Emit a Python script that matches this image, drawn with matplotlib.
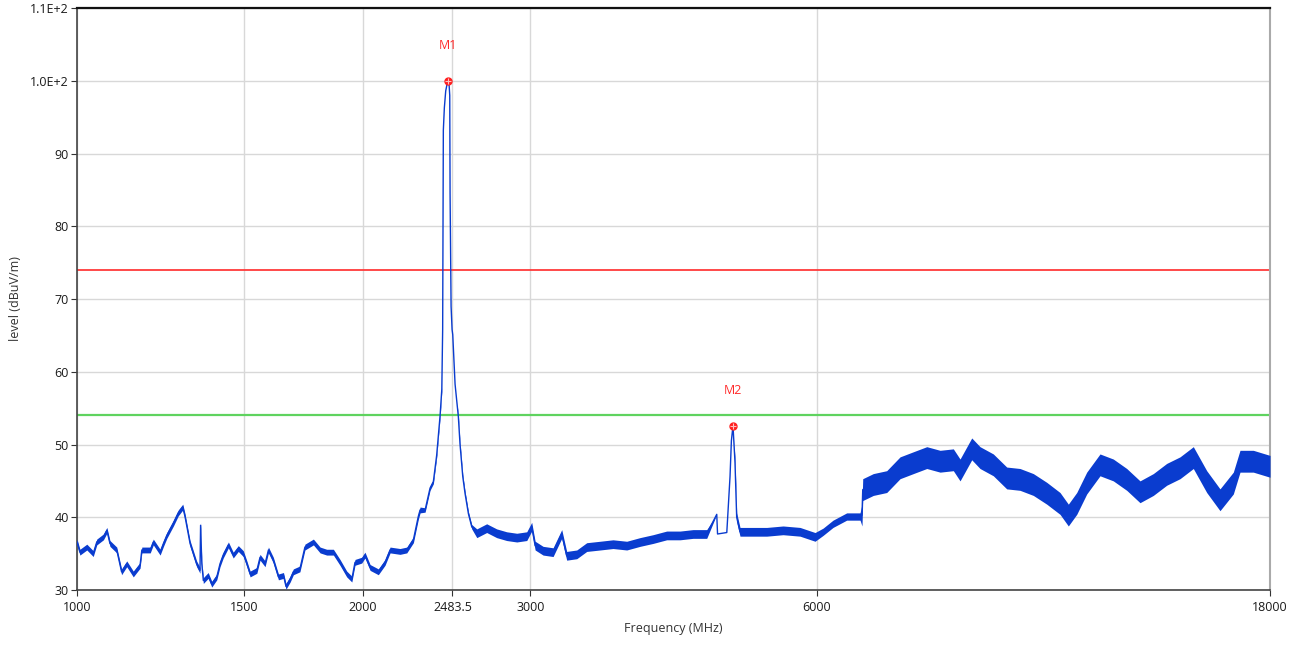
import matplotlib
matplotlib.use('Agg')
import matplotlib.pyplot as plt
import numpy as np

# sweep trace, 1-18 GHz
freq_mhz = [1000, 1007, 1024, 1040, 1049, 1066, 1075, 1083, 1101, 1114,
            1128, 1146, 1165, 1170, 1194, 1203, 1223, 1233, 1243, 1263,
            1278, 1292, 1299, 1315, 1336, 1347, 1349, 1353, 1358, 1374,
            1386, 1403, 1414, 1425, 1443, 1460, 1478, 1496, 1509, 1521,
            1546, 1558, 1577, 1590, 1609, 1629, 1649, 1659, 1676, 1689,
            1716, 1737, 1773, 1802, 1831, 1861, 1891, 1922, 1946, 1961,
            1993, 2009, 2034, 2075, 2109, 2135, 2187, 2223, 2259, 2286,
            2296, 2324, 2352, 2371, 2390, 2410, 2420, 2425, 2427, 2429,
            2435, 2443, 2449, 2455, 2463, 2467, 2469, 2475, 2481, 2485,
            2499, 2509, 2519, 2529, 2546, 2560, 2581, 2602, 2634, 2698,
            2764, 2832, 2902, 2973, 3009, 3034, 3093, 3169, 3236, 3275,
            3356, 3438, 3551, 3664, 3788, 3912, 4037, 4173, 4310, 4448,
            4598, 4711, 4720, 4827, 4865, 4881, 4900, 4908, 4924, 4944,
            4984, 5144, 5318, 5532, 5764, 5978, 6095, 6244, 6454, 6666,
            6698, 6710, 6884, 7111, 7345, 7585, 7836, 8093, 8357, 8494,
            8738, 8915, 9207, 9511, 9822, 10144, 10479, 10822, 11042, 11269,
            11545, 11923, 12313, 12720, 13136, 13566, 14014, 14473, 14947, 15440,
            15945, 16468, 16737, 17285, 18000]
level_db = [36.6, 35.2, 35.9, 35.0, 36.6, 37.3, 38.2, 36.4, 35.5, 32.5,
            33.6, 32.2, 33.4, 35.5, 35.5, 36.6, 35.2, 36.4, 37.5, 39.2,
            40.6, 41.4, 40.1, 36.4, 33.6, 32.7, 38.9, 33.6, 31.3, 32.0,
            30.8, 31.8, 33.6, 34.8, 36.2, 34.8, 35.7, 35.0, 33.6, 32.2,
            32.7, 34.5, 33.6, 35.5, 34.1, 31.8, 32.0, 30.5, 31.5, 32.5,
            32.9, 35.9, 36.6, 35.5, 35.2, 35.2, 33.8, 32.2, 31.5, 33.8,
            34.1, 34.8, 33.1, 32.5, 33.8, 35.5, 35.3, 35.5, 36.9, 40.1,
            41.0, 41.0, 44.0, 44.9, 48.5, 54.0, 57.6, 65.8, 81.3, 93.2,
            96.3, 98.6, 99.3, 100.0, 99.5, 98.0, 84.5, 69.0, 65.8, 65.1,
            58.3, 56.0, 53.8, 50.1, 45.6, 43.3, 40.5, 38.7, 37.8, 38.5,
            37.8, 37.4, 37.2, 37.4, 38.7, 36.1, 35.4, 35.2, 37.7, 34.7,
            34.9, 35.9, 36.1, 36.3, 36.1, 36.6, 37.0, 37.5, 37.5, 37.7,
            37.7, 40.4, 37.7, 37.9, 45.6, 50.5, 52.6, 50.9, 47.5, 40.0,
            38.0, 38.0, 38.0, 38.2, 38.0, 37.3, 38.0, 39.1, 40.1, 40.1,
            40.3, 43.8, 44.5, 44.9, 46.8, 47.5, 48.2, 47.7, 47.9, 46.5,
            49.4, 48.2, 47.2, 45.4, 45.2, 44.5, 43.3, 41.9, 40.3, 41.9,
            44.7, 47.2, 46.5, 45.2, 43.5, 44.5, 45.9, 46.8, 48.2, 44.9,
            42.4, 44.7, 47.7, 47.7, 47.0]
# half width of the noise band around the trace
spread_db = [0.4] * 71 + [0.3] * 6 + [0.0] * 15 + [0.3] * 6 + [0.6] * 23 + \
            [0.0] * 7 + [0.6] * 8 + [0.5] * 4 + [1.5] * 35

limit_peak = 74
limit_avg = 54

markers = {'M1': (2455, 100.0), 'M2': (4900, 52.6)}

x_ticks = [1000, 1500, 2000, 2483.5, 3000, 6000, 18000]
x_labels = ['1000', '1500', '2000', '2483.5', '3000', '6000', '18000']
y_ticks = [30, 40, 50, 60, 70, 80, 90, 100, 110]
y_labels = ['30', '40', '50', '60', '70', '80', '90', '1.0E+2', '1.1E+2']

freq = np.array(freq_mhz, dtype=float)
level = np.array(level_db)
spread = np.array(spread_db)

plt.rcParams['font.family'] = ['Open Sans', 'DejaVu Sans']

fig = plt.figure(figsize=(12.99, 6.47), dpi=100)
ax = fig.add_axes([0.0593, 0.0881, 0.9184, 0.8995])

trace_col = '#0a3ccf'
ax.fill_between(freq, level - spread, level + spread, color=trace_col,
                lw=0, zorder=3)
ax.plot(freq, level, color=trace_col, lw=1.0, zorder=4)

ax.axhline(limit_peak, color='#ff3a3a', lw=1.3, zorder=2)
ax.axhline(limit_avg, color='#5fd35f', lw=1.6, zorder=2)

for name, (fx, fy) in markers.items():
    ax.plot(fx, fy, 'o', ms=5, color='#ff2020', zorder=6)
    ax.plot(fx, fy, '+', ms=4, mew=0.8, color='#ffc0c0', zorder=7)
    ax.annotate(name, (fx, fy), xytext=(0, 35), textcoords='offset pixels',
                ha='center', va='center', color='#ff2a2a', fontsize=9)

ax.set_xscale('log')
ax.set_xlim(1000, 18000)
ax.set_ylim(30, 110)
ax.set_xticks(x_ticks)
ax.set_xticklabels(x_labels)
ax.minorticks_off()
ax.set_yticks(y_ticks)
ax.set_yticklabels(y_labels)

ax.grid(True, color='#d8d8d8', lw=1, zorder=0)
ax.set_axisbelow(True)

ax.tick_params(axis='both', labelsize=9, colors='#333333', labelcolor='#1a1a1a')
ax.tick_params(axis='y', length=4, pad=2)
ax.tick_params(axis='x', length=4, pad=4)

ax.spines['top'].set_color('#111111')
ax.spines['top'].set_linewidth(1.6)
ax.spines['left'].set_color('#444444')
ax.spines['left'].set_linewidth(1.2)
ax.spines['bottom'].set_color('#444444')
ax.spines['bottom'].set_linewidth(1.2)
ax.spines['right'].set_color('#aaaaaa')
ax.spines['right'].set_linewidth(1.5)

ax.set_xlabel('Frequency (MHz)', fontsize=9, color='#333333', labelpad=6)
ax.set_ylabel('level (dBuV/m)', fontsize=9, color='#333333', labelpad=6)

fig.savefig('out.png', dpi=100)
